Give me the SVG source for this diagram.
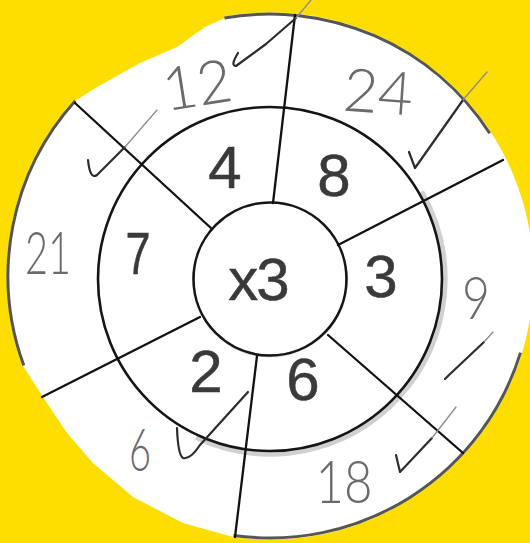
<svg xmlns="http://www.w3.org/2000/svg" width="530" height="543" viewBox="0 0 530 543">
<style>
.spoke{stroke:#111;stroke-width:2.3;stroke-linecap:round;fill:none}
.ring{stroke:#151515;stroke-width:2.6;fill:none}
.edge{stroke:#555;stroke-width:3;fill:none}
.cut{fill:#FEDE00}
.marker{font-family:"Liberation Sans","DejaVu Sans",sans-serif;font-size:60px;fill:#3a3a3a;stroke:#3a3a3a;stroke-width:0.5;text-anchor:middle}
.pencil{font-family:Lato,"Open Sans",sans-serif;font-weight:300;font-size:60px;fill:#6a6a6a;text-anchor:middle}
.tick{stroke:#2c2c2c;stroke-width:2.2;fill:none;stroke-linecap:round;stroke-linejoin:round}
.faint{stroke:#8c8c8c;stroke-width:1.3;fill:none;stroke-linecap:round}
.smudge{stroke:#8a8a8a;fill:none;opacity:0.4}
</style>
<rect id="background" x="0" y="0" width="530" height="543" fill="#FEDE00"/>
<g id="paper">
<circle cx="270" cy="276" r="263.5" fill="#fff"/>
<path class="cut" d="M75,101 L97,87 L140,63 L177,47 L205,27 L225,18 L225,0 L0,0 L0,101 Z"/>
<path class="cut" d="M23,366 L43,397 L67,433 L93,463 L133,497 L183,523 L233,537 L233,543 L0,543 L0,366 Z"/>
<path class="edge" d="M224.5,18 A262,262 0 0 1 489.7,133.3"/>
<path class="edge" d="M23.8,365.6 A262,262 0 0 1 75.3,100.7"/>
<path class="edge" d="M520.5,352.6 A262,262 0 0 1 233.5,535.4"/>
</g>
<g id="rings">
<path class="smudge" stroke-width="5" d="M421.6,191.5 A175,175 0 0 1 196,437.6"/>
<path class="smudge" stroke-width="3" d="M342.4,304.3 A77,77 0 0 1 231.5,345.7"/>
<circle id="middle-ring" class="ring" cx="270" cy="279" r="172"/>
<circle id="inner-ring" class="ring" cx="270" cy="279" r="76.5"/>
</g>
<g id="connectors">
<line class="spoke" x1="273" y1="203" x2="295" y2="15"/>
<line class="spoke" x1="212" y1="229" x2="75" y2="103"/>
<line class="spoke" x1="338" y1="245" x2="503" y2="160"/>
<line class="spoke" x1="200" y1="317" x2="42" y2="397"/>
<line class="spoke" x1="328" y1="335" x2="463" y2="453"/>
<line class="spoke" x1="257" y1="356" x2="235" y2="537"/>
</g>
<g id="centre"><text class="marker" x="258" y="300" font-size="62" letter-spacing="-2">x3</text></g>
<g id="seg-4"><text class="marker" x="225" y="188">4</text><text class="pencil" x="197" y="106" transform="rotate(-9 197 85)">12</text></g>
<g id="seg-8"><text class="marker" x="334" y="196" font-size="64">8</text><text class="pencil" x="378" y="113" font-size="58" transform="rotate(4 378 95)">24</text></g>
<g id="seg-3"><text class="marker" x="381" y="297" font-size="56">3</text><text class="pencil" x="476" y="319" font-size="70" textLength="28" lengthAdjust="spacingAndGlyphs">9</text></g>
<g id="seg-6"><text class="marker" x="303" y="400" font-size="56">6</text><text class="pencil" x="344" y="503" font-size="66" textLength="57" lengthAdjust="spacingAndGlyphs">18</text></g>
<g id="seg-2"><text class="marker" x="206" y="392" font-size="64">2</text><text class="pencil" x="140" y="471" font-size="64" textLength="22" lengthAdjust="spacingAndGlyphs">6</text></g>
<g id="seg-7"><text class="marker" x="138" y="274" textLength="25" lengthAdjust="spacingAndGlyphs">7</text><text class="pencil" x="48" y="274" font-size="58" textLength="46" lengthAdjust="spacingAndGlyphs">21</text></g>
<g id="ticks">
<path class="tick" d="M238,53 Q230,66 236,66 L266,44 L296,18"/>
<path class="faint" d="M296,18 L311,0"/>
<path class="tick" stroke="#666" stroke-width="1.6" d="M88,160 Q90,180 97,175 L125,147"/>
<path class="faint" d="M125,147 L157,110"/>
<path class="tick" stroke-width="2.6" d="M409,152 L415,168 L463,100"/>
<path class="faint" d="M463,100 L487,72"/>
<path class="tick" stroke="#444" d="M445,379 L449,375 L484,342"/>
<path class="faint" d="M484,342 L493,332"/>
<path class="tick" d="M396,455 L400,472 L432,438"/>
<path class="faint" d="M432,438 L456,407"/>
<path class="tick" d="M177,428 Q178,455 183,458 Q190,460 200,445 L248,392"/>
</g>
</svg>
